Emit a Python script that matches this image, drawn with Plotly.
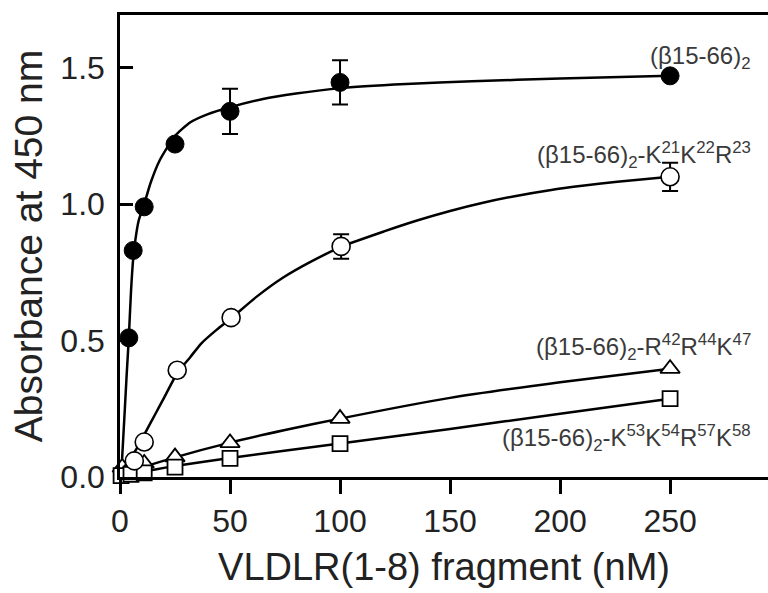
import plotly.graph_objects as go

# ---- data ----
wt_x = [4, 6, 11, 25, 50, 100, 250]
wt_y = [0.51, 0.83, 0.99, 1.22, 1.34, 1.446, 1.47]
wt_err = [0, 0, 0, 0, 0.083, 0.081, 0]

kkr_x = [6.5, 11, 26, 50.5, 100.5, 250]
kkr_y = [0.059, 0.128, 0.391, 0.584, 0.845, 1.10]
kkr_err = [0, 0, 0, 0, 0.045, 0.052]

rrk_x = [1, 5, 11, 25, 50, 100, 250]
rrk_y = [0.035, 0.04, 0.05, 0.073, 0.125, 0.214, 0.397]

kkrk_x = [0.5, 5, 11, 25, 50, 100, 250]
kkrk_y = [0.005, 0.01, 0.015, 0.036, 0.068, 0.122, 0.287]

# fitted curves as traced on the picture
wt_fit_x = [0.5, 2, 3, 4, 5, 6, 7, 8.5, 11, 14, 18, 25, 32, 40, 50, 65, 80, 100, 130, 160, 200, 250]
wt_fit_y = [0.0, 0.22, 0.37, 0.51, 0.68, 0.8, 0.87, 0.94, 1.0, 1.08, 1.16, 1.25, 1.3, 1.33, 1.355,
            1.385, 1.405, 1.425, 1.44, 1.45, 1.46, 1.47]

kkr_fit_x = [0.5, 4, 8, 12, 16, 20, 26, 32, 37, 44, 51, 62, 74, 87, 101, 120, 135, 150, 165, 180, 196, 211, 226, 250]
kkr_fit_y = [0.0, 0.055, 0.11, 0.17, 0.23, 0.29, 0.38, 0.44, 0.49, 0.54, 0.585, 0.66, 0.73, 0.79,
             0.845, 0.90, 0.94, 0.975, 1.005, 1.03, 1.052, 1.068, 1.082, 1.10]

rrk_fit_x = [0.5, 10, 25, 50, 75, 100, 150, 200, 250]
rrk_fit_y = [0.01, 0.035, 0.072, 0.126, 0.172, 0.214, 0.29, 0.347, 0.397]

kkrk_fit_x = [0.5, 10, 25, 50, 100, 150, 200, 250]
kkrk_fit_y = [0.0, 0.018, 0.04, 0.07, 0.123, 0.176, 0.232, 0.287]

x_ticks = [0, 50, 100, 150, 200, 250]
y_ticks = [0.0, 0.5, 1.0, 1.5]
y_tick_text = ["0.0", "0.5", "1.0", "1.5"]

labels = [
    "(β15-66)<sub>2</sub>",
    "(β15-66)<sub>2</sub>-K<sup>21</sup>K<sup>22</sup>R<sup>23</sup>",
    "(β15-66)<sub>2</sub>-R<sup>42</sup>R<sup>44</sup>K<sup>47</sup>",
    "(β15-66)<sub>2</sub>-K<sup>53</sup>K<sup>54</sup>R<sup>57</sup>K<sup>58</sup>",
]
label_y = [0.908, 0.697, 0.281, 0.084]

FONT = "Liberation Sans, Arial, sans-serif"

fig = go.Figure()

for fx, fy in [(wt_fit_x, wt_fit_y), (kkr_fit_x, kkr_fit_y), (rrk_fit_x, rrk_fit_y), (kkrk_fit_x, kkrk_fit_y)]:
    fig.add_trace(go.Scatter(x=fx, y=fy, mode="lines", line=dict(color="black", width=2.5, shape="spline", smoothing=0.6),
                             hoverinfo="skip", cliponaxis=False))

err_style = dict(type="data", color="black", thickness=2, width=8)

fig.add_trace(go.Scatter(x=rrk_x, y=rrk_y, mode="markers", cliponaxis=False,
                         marker=dict(symbol="triangle-up", size=17, color="white", line=dict(color="black", width=1.8))))
fig.add_trace(go.Scatter(x=kkrk_x, y=kkrk_y, mode="markers", cliponaxis=False,
                         marker=dict(symbol="square", size=15, color="white", line=dict(color="black", width=1.8))))
fig.add_trace(go.Scatter(x=kkr_x, y=kkr_y, mode="markers", cliponaxis=False,
                         error_y=dict(array=kkr_err, **err_style),
                         marker=dict(symbol="circle", size=18, color="white", line=dict(color="black", width=1.6))))
fig.add_trace(go.Scatter(x=wt_x, y=wt_y, mode="markers", cliponaxis=False,
                         error_y=dict(array=wt_err, **err_style),
                         marker=dict(symbol="circle", size=18, color="black", line=dict(color="black", width=1))))

for txt, yy in zip(labels, label_y):
    fig.add_annotation(text=txt, xref="paper", yref="paper", x=0.977, y=yy, xanchor="right", yanchor="middle",
                       showarrow=False, font=dict(family=FONT, size=24, color="#3a3a3a"))

fig.update_layout(
    width=768, height=593,
    margin=dict(l=120, r=0, t=15, b=116),
    paper_bgcolor="white", plot_bgcolor="white",
    showlegend=False,
    font=dict(family=FONT, color="#222"),
    xaxis=dict(range=[0, 294.5], tickvals=x_ticks, ticks="outside", ticklen=14, tickwidth=2.5, tickcolor="black",
               showline=True, linecolor="black", linewidth=2.5, mirror=True, showgrid=False, zeroline=False,
               tickfont=dict(size=32, family=FONT, color="#222"),
               title=dict(text="VLDLR(1-8) fragment (nM)", font=dict(size=38, family=FONT, color="#222"), standoff=16)),
    yaxis=dict(range=[0, 1.693], tickvals=y_ticks, ticktext=y_tick_text, ticks="inside", ticklen=13, tickwidth=2.5,
               tickcolor="black", showline=True, linecolor="black", linewidth=2.5, showgrid=False, zeroline=False,
               tickfont=dict(size=32, family=FONT, color="#222"), ticklabelstandoff=6,
               title=dict(text="Absorbance at 450 nm", font=dict(size=39, family=FONT, color="#222"), standoff=6)),
)

fig.write_html("out.html")
